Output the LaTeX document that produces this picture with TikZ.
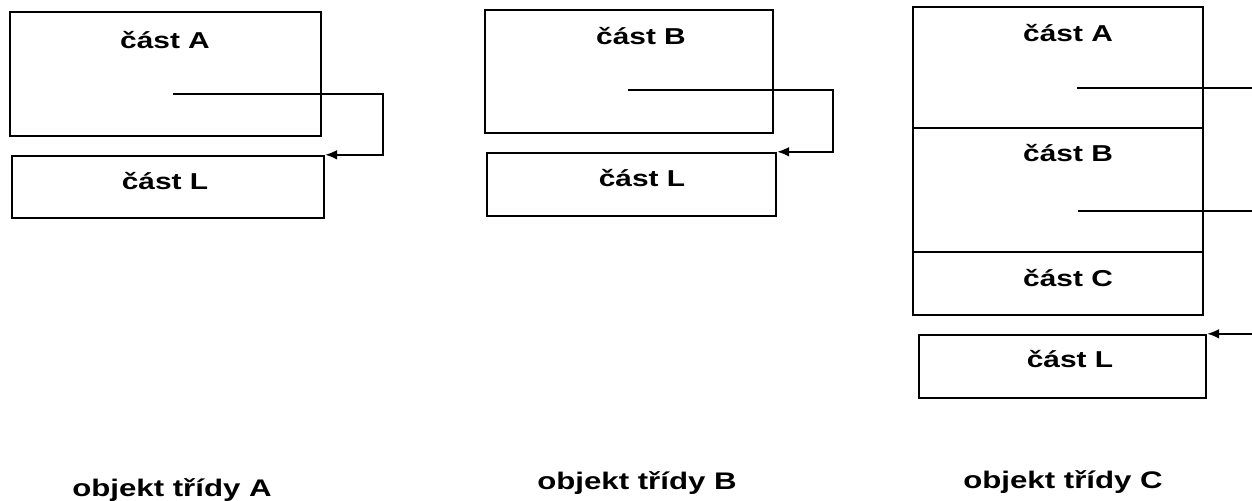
\documentclass[tikz,border=0pt]{standalone}
\usepackage{fontspec}
\setmainfont{Liberation Sans}[FakeStretch=1.3]
\usetikzlibrary{arrows.meta}
\begin{document}
\begin{tikzpicture}[x=0.5pt,y=-0.5pt,
  part/.style={draw,line width=1.2pt,inner sep=0pt},
  txt/.style={font=\fontsize{11.5}{13}\selectfont\bfseries,inner sep=0pt},
  objname/.style={font=\fontsize{12}{14}\selectfont\bfseries,inner sep=0pt,anchor=base},
  link/.style={line width=1.1pt},
  ptr/.style={line width=1.1pt,-{Latex[length=6pt,width=5pt]}}]
\useasboundingbox (0,0) rectangle (1252,501);
\node[part,minimum width=155.5pt,minimum height=62pt] (aA) at (165.5,74) {};
\node[part,minimum width=156pt,minimum height=31pt] (aL) at (168,187) {};
\node[txt] (taA) at (165,40) {část A};
\node[txt] (taL) at (165,181) {část L};
\coordinate (pA) at (173,94);
\draw[ptr] (pA) -- ++(210,0) |- (aL.north east);
\node[part,minimum width=144pt,minimum height=61.5pt] (bB) at (629,71.5) {};
\node[part,minimum width=144.5pt,minimum height=31.5pt] (bL) at (631.5,184.5) {};
\node[txt] (tbB) at (641,36) {část B};
\node[txt] (tbL) at (642,178) {část L};
\coordinate (pB) at (628,90);
\draw[ptr] (pB) -- ++(205,0) |- (bL.north east);
\node[part,minimum width=145pt,minimum height=60.5pt] (cA) at (1058,67.5) {};
\node[part,minimum width=145pt,minimum height=62pt] (cB) at (1058,190) {};
\node[part,minimum width=145pt,minimum height=31.5pt] (cC) at (1058,283.5) {};
\node[part,minimum width=143.5pt,minimum height=31.5pt] (cL) at (1062.5,366.5) {};
\node[txt] (tcA) at (1068,33) {část A};
\node[txt] (tcB) at (1068,153) {část B};
\node[txt] (tcC) at (1068,278) {část C};
\node[txt] (tcL) at (1070,359) {část L};
\coordinate (pCA) at (1077,88);
\coordinate (pCB) at (1078,211);
\coordinate (eA) at (1252,88);
\coordinate (eB) at (1252,211);
\coordinate (eL) at (1252,0);
\draw[link] (pCA) -- (eA);
\draw[link] (pCB) -- (eB);
\draw[ptr] (eL |- cL.north east) -- (cL.north east);
\node[objname] (oA) at (172,497) {objekt třídy A};
\node[objname] (oB) at (637,490) {objekt třídy B};
\node[objname] (oC) at (1063,489) {objekt třídy C};
\end{tikzpicture}
\end{document}
